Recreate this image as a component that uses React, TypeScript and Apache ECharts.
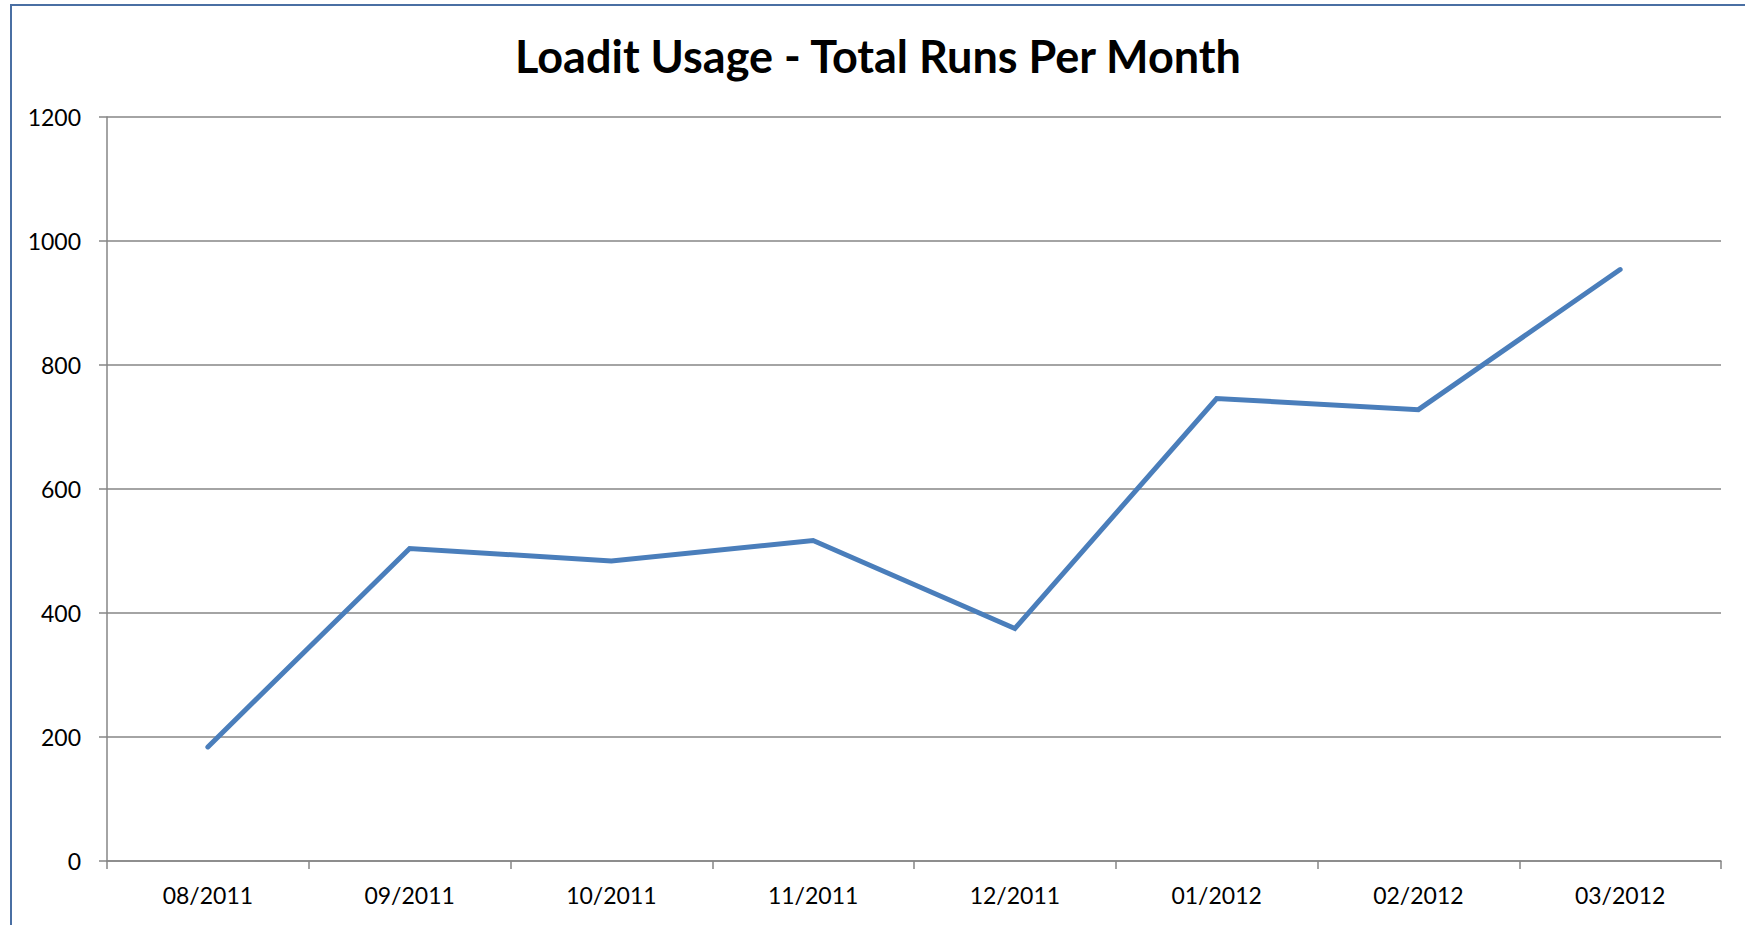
import React, { useEffect, useRef } from "react";
import * as echarts from "echarts";

const TITLE = "Loadit Usage - Total Runs Per Month";
const months = ["08/2011", "09/2011", "10/2011", "11/2011", "12/2011", "01/2012", "02/2012", "03/2012"];
const totalRuns = [184, 504, 484, 517, 375, 746, 728, 954];
const yMin = 0;
const yMax = 1200;
const yStep = 200;

const FONT = "Lato, 'Open Sans', 'Liberation Sans', sans-serif";
const GRID_COLOR = "#868686";

export default function App() {
  const ref = useRef<HTMLDivElement>(null);

  useEffect(() => {
    if (!ref.current) return;
    const chart = echarts.init(ref.current, null, { renderer: "svg" });
    chart.setOption({
      animation: false,
      backgroundColor: "#ffffff",
      title: {
        text: TITLE,
        left: 878,
        top: 33,
        padding: 0,
        textAlign: "center",
        textStyle: {
          fontFamily: FONT,
          fontWeight: "bold",
          fontSize: 45,
          color: "#000000",
        },
      },
      graphic: [
        {
          type: "rect",
          silent: true,
          z: 100,
          shape: { x: 11, y: 5, width: 1900, height: 1100 },
          style: { fill: "none", stroke: "#4a6fa3", lineWidth: 2 },
        },
      ],
      grid: { left: 107, top: 117, right: 24, bottom: 64, containLabel: false },
      xAxis: {
        type: "category",
        data: months,
        boundaryGap: true,
        axisLine: { show: true, lineStyle: { color: GRID_COLOR, width: 1.5 } },
        axisTick: { show: true, length: 8, alignWithLabel: false, lineStyle: { color: GRID_COLOR, width: 1.5 } },
        axisLabel: { color: "#000000", fontFamily: FONT, fontSize: 23, margin: 22 },
        splitLine: { show: false },
      },
      yAxis: {
        type: "value",
        min: yMin,
        max: yMax,
        interval: yStep,
        axisLine: { show: true, lineStyle: { color: GRID_COLOR, width: 1.5 } },
        axisTick: { show: true, length: 8, lineStyle: { color: GRID_COLOR, width: 1.5 } },
        axisLabel: {
          color: "#000000",
          fontFamily: FONT,
          fontSize: 23,
          margin: 26,
          formatter: (v: number) => String(v),
        },
        splitLine: { show: true, lineStyle: { color: GRID_COLOR, width: 1.5 } },
      },
      series: [
        {
          type: "line",
          data: totalRuns,
          symbol: "none",
          lineStyle: { color: "#4a7ebb", width: 5, cap: "round", join: "miter" },
          itemStyle: { color: "#4a7ebb" },
        },
      ],
    });
    return () => chart.dispose();
  }, []);

  return (
    <div
      ref={ref}
      style={{ position: "fixed", left: 0, top: 0, width: 1745, height: 925, background: "#fff" }}
    />
  );
}
